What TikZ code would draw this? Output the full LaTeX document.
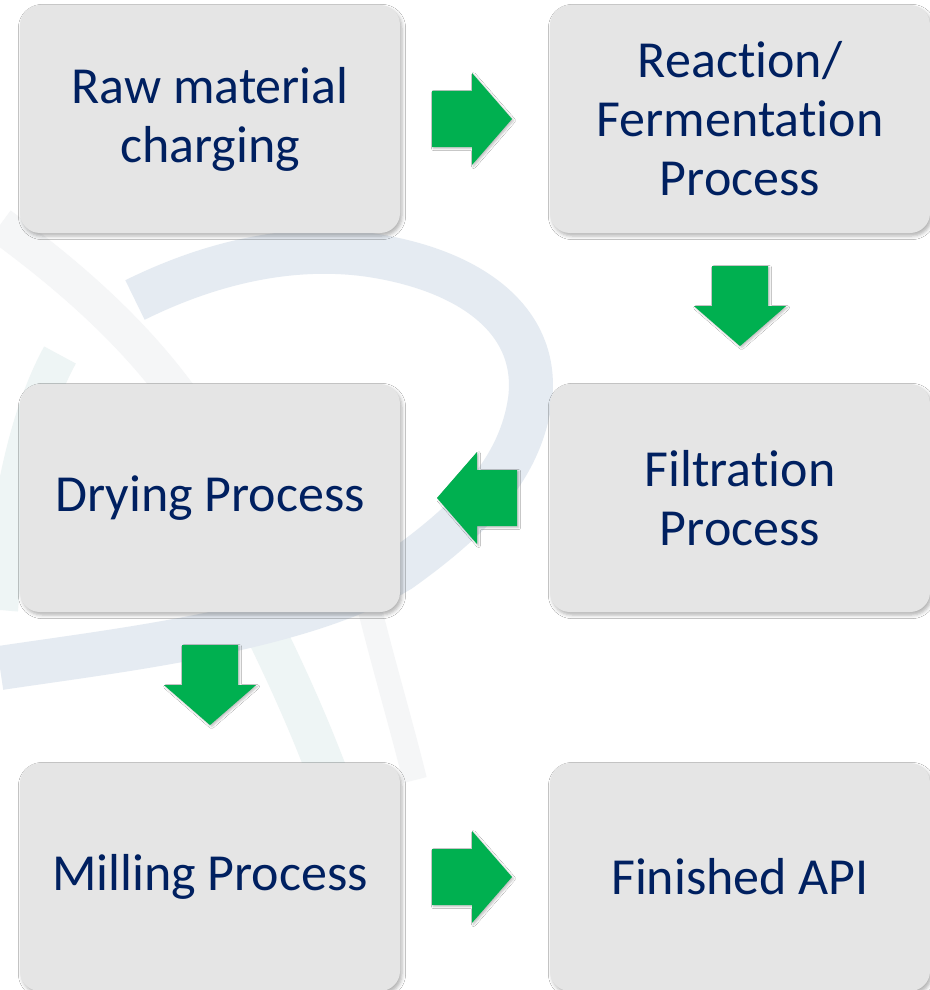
\documentclass[tikz,border=0pt]{standalone}
\usepackage{fontspec}
\setmainfont{Carlito}[RawFeature={-liga,-clig,-dlig}]
\usetikzlibrary{calc,shadows.blur}

\definecolor{navy}{HTML}{002060}
\definecolor{boxgrey}{HTML}{E5E5E5}
\definecolor{flowgreen}{HTML}{00B050}
\definecolor{orbitblue}{HTML}{E5EBF2}
\definecolor{tealmark}{HTML}{EEF5F5}
\definecolor{greymark}{HTML}{F5F6F7}

\tikzset{
  stepbox/.style={rounded corners=10pt, fill=boxgrey, minimum width=190pt,
    minimum height=114pt, inner sep=0pt, align=center, text=navy,
    font=\fontsize{26pt}{29.5pt}\selectfont,
    blur shadow={shadow xshift=1pt, shadow yshift=-1.5pt,
      shadow blur radius=1.8pt, shadow opacity=30}},
  wmark/.style={line width=#1, line cap=butt},
  pics/garrow/.style={code={
    \fill[flowgreen, blur shadow={shadow xshift=0.8pt, shadow yshift=-0.8pt,
      shadow blur radius=1pt, shadow opacity=25}]
      (-40,-28) -- (0,-28) -- (0,-46) -- (40,0) -- (0,46) -- (0,28)
      -- (-40,28) -- cycle;}}
}

\begin{document}
\begin{tikzpicture}[x=0.5pt, y=-0.5pt]
  \useasboundingbox (0,0) rectangle (930,990);
  \fill[white] (0,0) rectangle (930,990);

  % faint logo watermark behind the flow
  \draw[greymark, wmark=18pt] (0,225) .. controls (130,320) and (220,420) .. (260,560);
  \draw[tealmark, wmark=20pt] (230,560) .. controls (270,640) and (300,700) .. (330,780);
  \draw[greymark, wmark=12pt] (370,610) .. controls (385,670) and (400,720) .. (415,780);
  \draw[tealmark, wmark=18pt] (0,610) .. controls (10,490) and (30,410) .. (60,355);
  \draw[orbitblue, wmark=22pt]
    (135,300) .. controls (220,258) and (300,245) .. (370,255)
    .. controls (470,270) and (540,320) .. (530,400)
    .. controls (520,470) and (470,520) .. (400,570)
    .. controls (300,630) and (120,650) .. (0,668);

  % process steps
  \node[stepbox] (raw)   at (210,119) {Raw material\\charging};
  \node[stepbox] (react) at (740,119) {Reaction/\\Fermentation\\Process};
  \node[stepbox] (filt)  at (740,498) {Filtration\\Process};
  \node[stepbox] (dry)   at (210,498) {Drying Process};
  \node[stepbox] (mill)  at (210,877) {Milling Process};
  \node[stepbox] (fin)   at (740,877) {Finished API};

  % block arrows between the steps
  \coordinate (g1) at ($(raw.east)!0.5!(react.west)$);
  \coordinate (g2) at ($(react.south)!0.5!(filt.north)$);
  \coordinate (g3) at ($(filt.west)!0.5!(dry.east)$);
  \coordinate (g4) at ($(dry.south)!0.5!(mill.north)$);
  \coordinate (g5) at ($(mill.east)!0.5!(fin.west)$);

  \pic at ([xshift=-1.5pt]g1) {garrow};
  \pic[rotate=-90] at ([yshift=1.2pt]g2) {garrow};
  \pic[rotate=180] at ([xshift=1pt]g3) {garrow};
  \pic[rotate=-90] at ([yshift=1.2pt]g4) {garrow};
  \pic at ([xshift=-1.5pt]g5) {garrow};
\end{tikzpicture}
\end{document}
